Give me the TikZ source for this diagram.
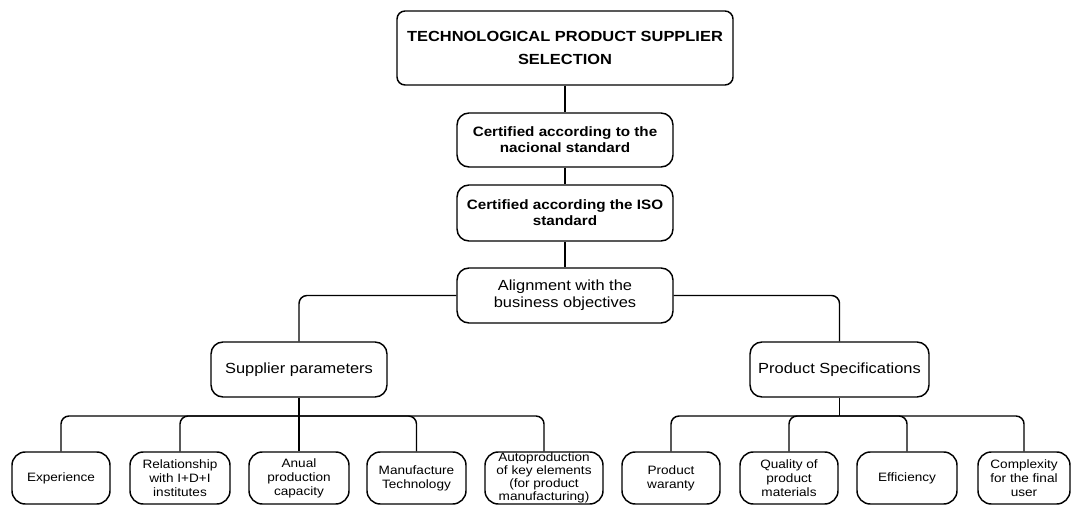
\documentclass[tikz,border=0pt]{standalone}
\usepackage{fontspec}
\setmainfont{Liberation Sans}[FakeStretch=1.12]
\begin{document}
\begin{tikzpicture}[x=0.75pt,y=-0.75pt,
  box/.style={draw, line width=1.1pt, rounded corners=9pt, align=center, inner sep=0pt, fill=white},
  titlebox/.style={box, rounded corners=6pt, font=\bfseries\fontsize{11}{17}\selectfont},
  certbox/.style={box, font=\bfseries\fontsize{10.2}{12}\selectfont},
  midbox/.style={box, font=\fontsize{11}{12.75}\selectfont},
  leaf/.style={box, rounded corners=10pt, minimum height=39pt, font=\fontsize{9.1}{10.5}\selectfont},
  conn/.style={line width=1.1pt, rounded corners=6pt},
  trunk/.style={line width=1.1pt}]
\useasboundingbox[fill=white] (0,0) rectangle (1072,506);

% main chain
\node[titlebox, minimum width=252pt, minimum height=55.5pt] (top) at (565,48) {TECHNOLOGICAL PRODUCT SUPPLIER\\SELECTION};
\node[certbox, minimum width=162pt, minimum height=40.5pt] (nat) at (565,140) {Certified according to the\\nacional standard};
\node[certbox, minimum width=162pt, minimum height=42pt] (iso) at (565,213) {Certified according the ISO\\standard};
\node[midbox, minimum width=162pt, minimum height=41.25pt] (ali) at (565,295.5) {Alignment with the\\business objectives};

\node[midbox, minimum width=132pt, minimum height=41.25pt] (sup) at (299,369.5) {Supplier parameters};
\node[midbox, minimum width=134.25pt, minimum height=41.25pt] (pro) at (839.5,369.5) {Product Specifications};

% leaves
\node[leaf, minimum width=73.5pt] (exp) at (61,478) {Experience};
\node[leaf, minimum width=75pt] (rel) at (180,478) {Relationship\\with I+D+I\\institutes};
\node[leaf, minimum width=75pt] (anu) at (299,478) {Anual\\production\\capacity};
\node[leaf, minimum width=74.25pt] (man) at (416.5,478) {Manufacture\\Technology};
\node[leaf, minimum width=88.5pt, font=\fontsize{9.1}{9.6}\selectfont] (aut) at (544,478) {Autoproduction\\of key elements\\(for product\\manufacturing)};
\node[leaf, minimum width=73.5pt] (war) at (671,478) {Product\\waranty};
\node[leaf, minimum width=73.5pt] (qua) at (789,478) {Quality of\\product\\materials};
\node[leaf, minimum width=75pt] (eff) at (907,478) {Efficiency};
\node[leaf, minimum width=69pt] (com) at (1024,478) {Complexity\\for the final\\user};

\coordinate (bus) at (0,416);

% connectors
\draw[trunk] (top.south) -- (nat.north);
\draw[trunk] (nat.south) -- (iso.north);
\draw[trunk] (iso.south) -- (ali.north);
\draw[conn] (ali.west) -| (sup.north);
\draw[conn] (ali.east) -| (pro.north);
\draw[trunk] (sup.south) -- (sup.south |- bus);
\draw[trunk] (pro.south) -- (pro.south |- bus);
\foreach \c in {exp,rel,man,aut}
  \draw[conn] (sup.south |- bus) -| (\c.north);
\draw[trunk] (sup.south |- bus) -- (anu.north);
\foreach \c in {war,qua,eff,com}
  \draw[conn] (pro.south |- bus) -| (\c.north);
\end{tikzpicture}
\end{document}
